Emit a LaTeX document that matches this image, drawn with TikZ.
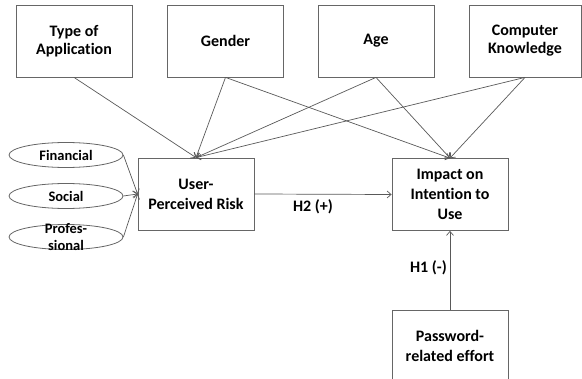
\documentclass[tikz,border=0pt]{standalone}
\usepackage{fontspec}
\setmainfont{Carlito}[Ligatures=NoCommon]
\usetikzlibrary{arrows.meta,shapes.geometric}
\begin{document}
\begin{tikzpicture}[x=1pt,y=-1pt,
  box/.style={draw=black!60, line width=0.8pt, minimum width=116pt, minimum height=72pt, inner sep=0pt, align=center, font=\fontsize{16}{20}\selectfont\bfseries},
  ell/.style={draw=black!60, line width=0.8pt, ellipse, minimum width=114pt, minimum height=25pt, inner sep=0pt},
  etext/.style={align=center, inner sep=0pt, font=\fontsize{14.5}{16.5}\selectfont\bfseries},
  lbl/.style={inner sep=0pt, font=\fontsize{16}{20}\selectfont\bfseries},
  conn/.style={draw=black!65, line width=0.7pt, -{Straight Barb[length=4pt,width=7pt]}}
]
\useasboundingbox (0,0) rectangle (582,379);
\node[box, font=\fontsize{16}{18}\selectfont\bfseries] (type) at (74,41) {Type of\\Application};
\node[box] (gen) at (225.5,41) {Gender};
\node[box] (age) at (376,41) {Age};
\node[box, minimum width=112pt, font=\fontsize{16}{18}\selectfont\bfseries] (ck) at (525,41) {Computer\\Knowledge};
\node[box] (upr) at (196,194) {User-\\Perceived Risk};
\node[box] (imp) at (450,194.5) {Impact on\\Intention to\\Use};
\node[box] (pw) at (450,346) {Password-\\related effort};
\node[ell] (fin) at (66,155) {};
\node[etext] (fint) at (fin) {Financial};
\node[ell] (soc) at (66,196) {};
\node[etext] (soct) at (soc) {Social};
\node[ell] (pro) at (66,237) {};
\node[etext] (prot) at (pro) {Profes-\\sional};
\draw[conn] (type.south) -- (upr.north);
\draw[conn] (gen.south) -- (upr.north);
\draw[conn] (gen.south) -- (imp.north);
\draw[conn] (age.south) -- (upr.north);
\draw[conn] (age.south) -- (imp.north);
\draw[conn] (ck.south) -- (upr.north);
\draw[conn] (ck.south) -- (imp.north);
\draw[conn] (fin.east) -- (upr.west);
\draw[conn] (soc.east) -- (upr.west);
\draw[conn] (pro.east) -- (upr.west);
\draw[conn] (upr.east) -- (imp.west);
\draw[conn] (pw.north) -- (imp.south);
\node[lbl] (h2) at (313,207) {H2 (+)};
\node[lbl, anchor=east] (h1) at (447,268) {H1 (-)};
\end{tikzpicture}
\end{document}
